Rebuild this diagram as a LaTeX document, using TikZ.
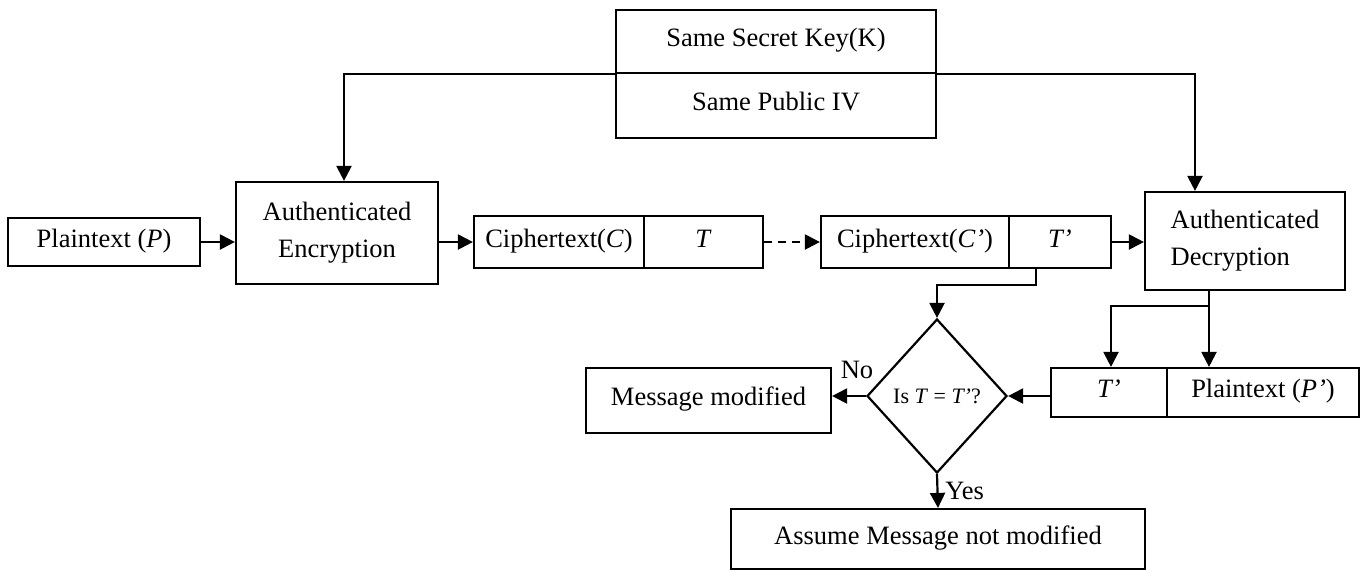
\documentclass[tikz,border=0pt]{standalone}
\usepackage{fontspec}
\setmainfont{Liberation Serif}
\usetikzlibrary{arrows.meta}
\usetikzlibrary{shapes.geometric}
\tikzset{Box/.style = {draw, line width = 1.1pt, inner sep = 0pt, font = \fontsize{13.25}{18.5}\selectfont}}
\tikzset{One Line/.style = {text height = 0.72em, text depth = 0.22em}}
\tikzset{Flow Line/.style = {line width = 1.1pt, -{Triangle[length = 7.5pt, width = 7.5pt]}}}
\tikzset{Plain Line/.style = {line width = 1.1pt}}

\begin{document}
\begin{tikzpicture}[x = 0.5pt, y = -0.5pt]
  \useasboundingbox (0, 0) rectangle (1361, 570);

  \node[Box, One Line, minimum width = 160pt, minimum height = 31.5pt] (key) at (776, 41.5) {Same Secret Key(K)};
  \node[Box, One Line, minimum width = 160pt, minimum height = 32.5pt] (iv) at (776, 105.5) {Same Public IV};

  \node[Box, One Line, minimum width = 96pt, minimum height = 24pt] (plain) at (104, 242) {Plaintext (\textit{P})};
  \node[Box, minimum width = 101pt, minimum height = 51pt, align = center] (enc) at (337, 233)
  {Authenticated\\Encryption};

  \node[Box, One Line, minimum width = 85pt, minimum height = 26pt] (ciph) at (559, 242) {Ciphertext(\textit{C})};
  \node[Box, One Line, minimum width = 59.5pt, minimum height = 26pt] (tag) at (703.5, 242) {\textit{T}};
  \node[Box, One Line, minimum width = 94pt, minimum height = 26pt] (ciphr) at (915, 242) {Ciphertext(\textit{C’})};
  \node[Box, One Line, minimum width = 51pt, minimum height = 26pt] (tagr) at (1060, 242) {\textit{T’}};

  \node[Box, minimum width = 100pt, minimum height = 49pt, align = left] (dec) at (1245, 241)
  {Authenticated\\Decryption};

  \node[Box, shape = diamond, minimum width = 70pt, minimum height = 77pt,
  font = \fontsize{11}{12}\selectfont] (check) at (937, 396) {Is \textit{T} = \textit{T’}?};

  \node[Box, One Line, minimum width = 58pt, minimum height = 24.5pt] (tago) at (1109, 392.5) {\textit{T’}};
  \node[Box, One Line, minimum width = 96pt, minimum height = 24.5pt] (plaino) at (1263, 392.5) {Plaintext (\textit{P’})};

  \node[Box, One Line, minimum width = 122.5pt, minimum height = 32.5pt] (modified) at (708.5, 400.5) {Message modified};
  \node[Box, One Line, minimum width = 207pt, minimum height = 30pt] (kept) at (938, 539) {Assume Message not modified};

  \draw[Flow Line] (key.south west) -| ([xshift = 3.5pt]enc.north);
  \draw[Flow Line] (key.south east) -| ([xshift = -25pt]dec.north);

  \draw[Flow Line] (plain.east) -- (plain.east -| enc.west);
  \draw[Flow Line] (ciph.west -| enc.east) -- (ciph.west);
  \draw[Flow Line, dash pattern = on 4pt off 3pt] (tag.east) -- (ciphr.west);
  \draw[Flow Line] (tagr.east) -- (tagr.east -| dec.west);

  \draw[Flow Line] ([xshift = -12pt]tagr.south) -- ++(0, 16) -| (check.north);

  \coordinate (split) at (1209, 306);
  \draw[Plain Line] (dec.south -| split) -- (split);
  \draw[Flow Line] (split) -- (split |- plaino.north);
  \draw[Flow Line] (split) -| ([xshift = 1pt]tago.north);

  \draw[Flow Line] (tago.west |- check.east) -- (check.east);
  \draw[Flow Line] (check.west) -- (check.west -| modified.east);
  \draw[Flow Line] (check.south) -- node[right, font = \fontsize{13.25}{15}\selectfont] {Yes} (kept.north);

  \node[font = \fontsize{13.25}{15}\selectfont] (nolabel) at (857, 370) {No};
\end{tikzpicture}
\end{document}
